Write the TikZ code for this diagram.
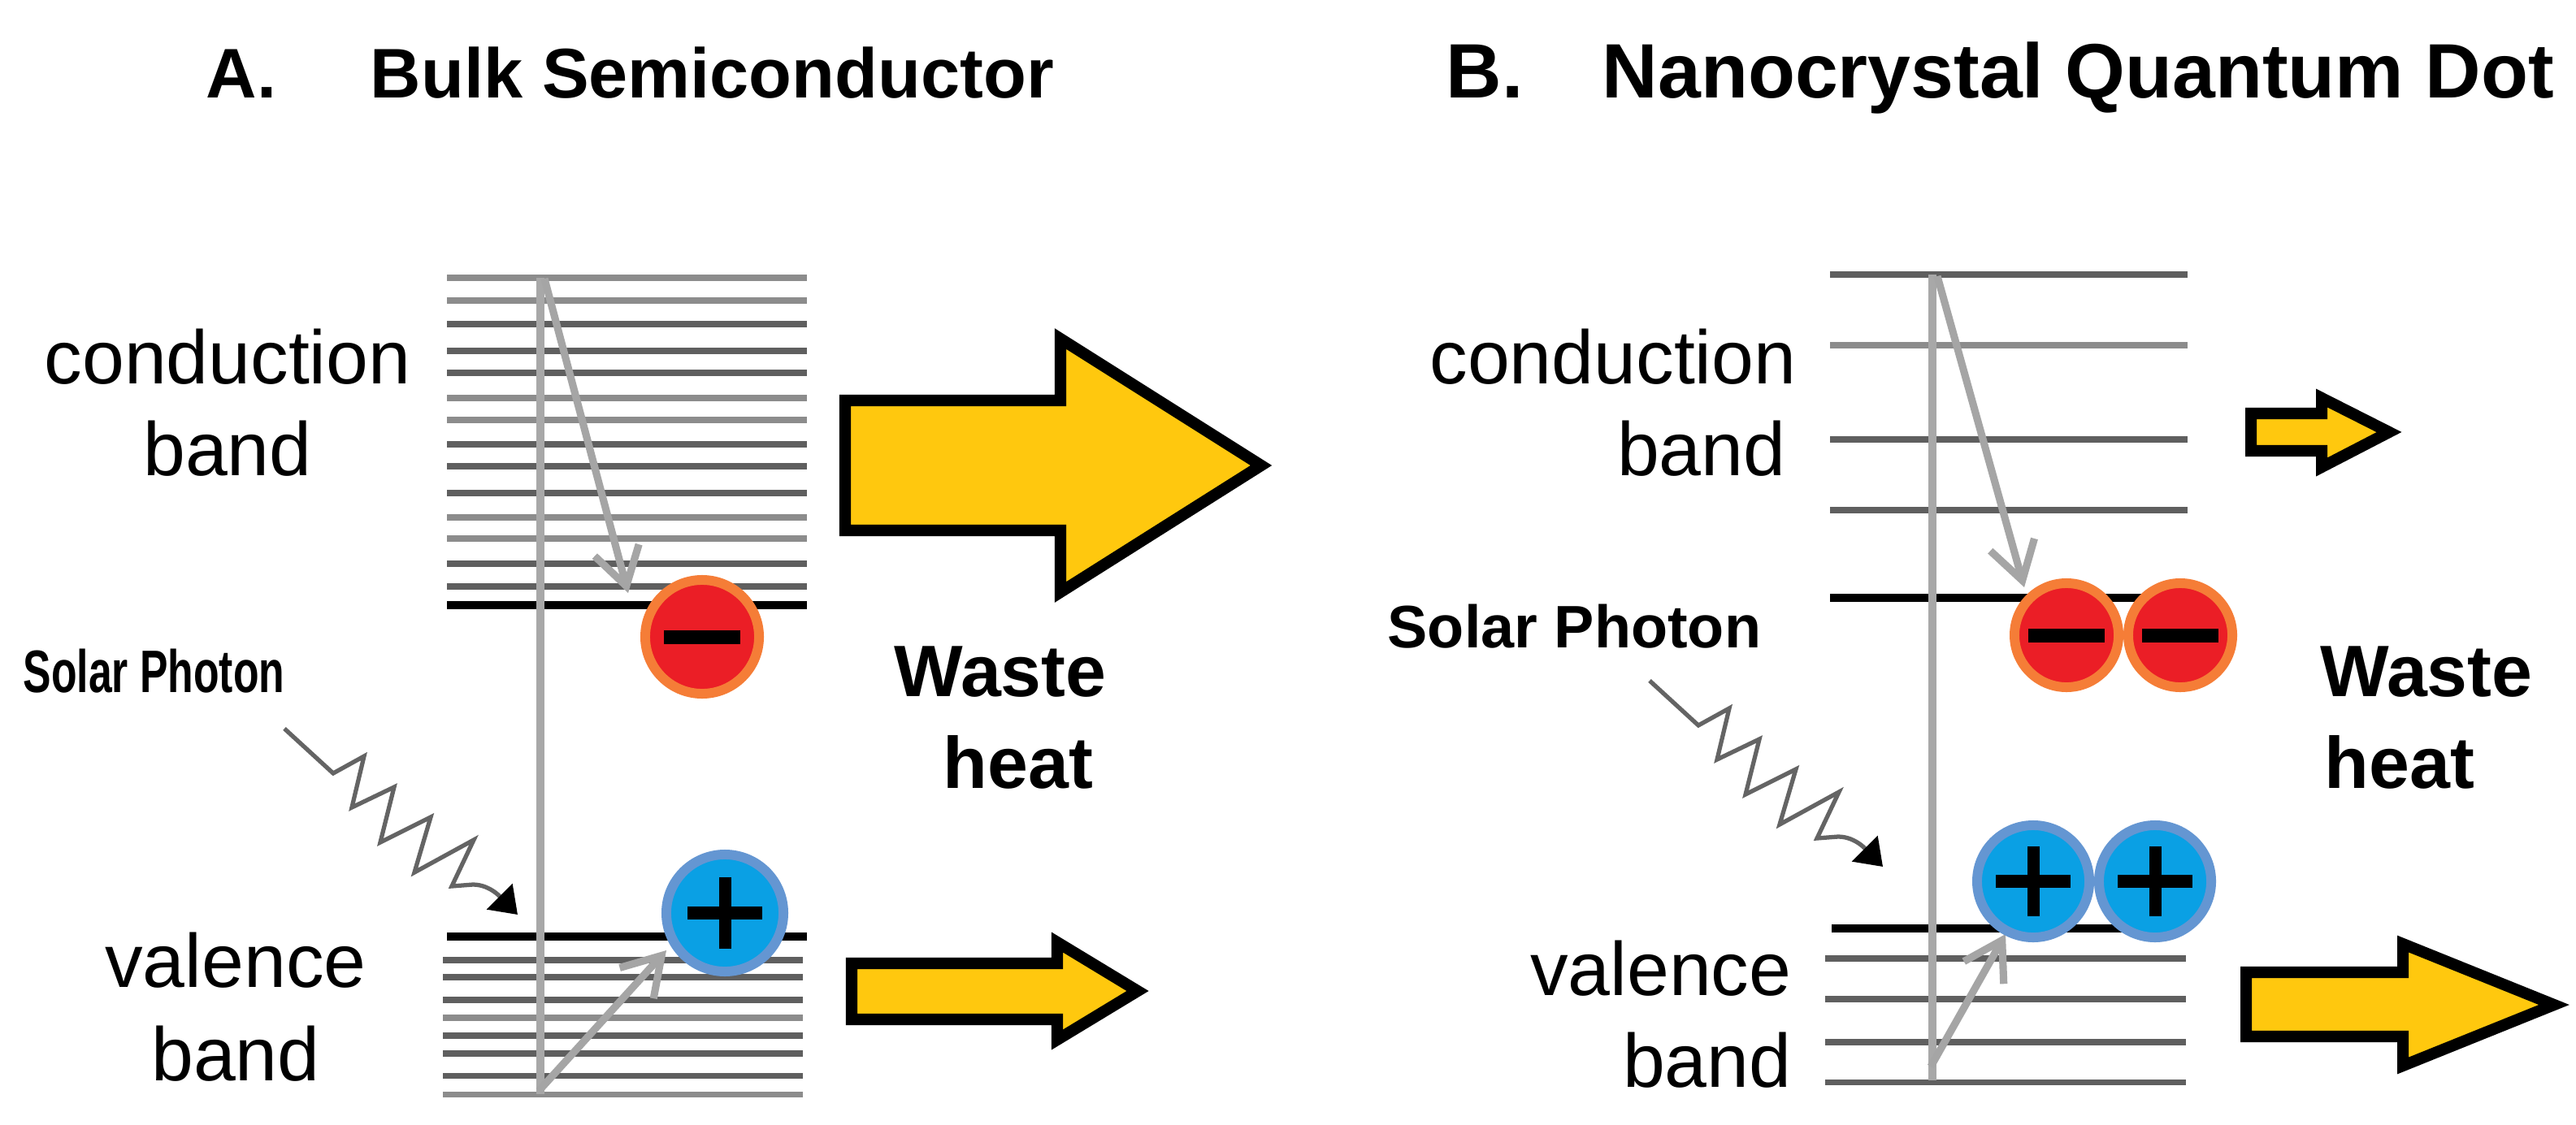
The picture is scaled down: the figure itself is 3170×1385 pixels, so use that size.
\documentclass[tikz,border=0pt]{standalone}
\usepackage{fontspec}
\setmainfont{Liberation Sans}
\usetikzlibrary{arrows.meta}
\definecolor{lndark}{RGB}{95,95,95}
\definecolor{lnmid}{RGB}{140,140,140}
\definecolor{vgray}{RGB}{168,168,168}
\definecolor{agray}{RGB}{165,165,165}
\definecolor{pgray}{RGB}{100,100,100}
\definecolor{efill}{RGB}{235,30,38}
\definecolor{eborder}{RGB}{245,125,55}
\definecolor{hfill}{RGB}{10,160,228}
\definecolor{hborder}{RGB}{100,150,210}
\definecolor{heatfill}{RGB}{255,200,14}
\begin{document}
\begin{tikzpicture}[x=0.01cm,y=-0.01cm,
  bandln/.style={line width=2pt},
  blk/.style={draw=black,line width=2.9pt},
  vline/.style={draw=vgray,line width=3.1pt},
  transit/.style={draw=agray,line width=2.6pt,-{Straight Barb[length=13pt,width=16pt]}},
  photon/.style={draw=pgray,line width=1.5pt,line join=miter,-{Triangle[length=9pt,width=12.5pt,color=black]}},
  electron/.style={circle,draw=eborder,fill=efill,line width=3.4pt,inner sep=0pt},
  hole/.style={circle,draw=hborder,fill=hfill,line width=3.4pt,inner sep=0pt},
  heatarrow/.style={draw=black,fill=heatfill,line width=4pt,line join=miter},
  lbl/.style={inner sep=0pt,font=\fontsize{26.5}{32}\selectfont},
  ttlA/.style={inner sep=0pt,font=\bfseries\fontsize{24.6}{30}\selectfont},
  ttlB/.style={inner sep=0pt,font=\bfseries\fontsize{27}{32}\selectfont},
  wst/.style={inner sep=0pt,font=\bfseries\fontsize{25.5}{30}\selectfont},
  sol/.style={inner sep=0pt,font=\bfseries\fontsize{21}{25}\selectfont}
]
\useasboundingbox (0,0) rectangle (3170,1385);
\fill[white] (0,0) rectangle (3170,1385);

% ---------------- Titles
\node[ttlA,anchor=base west] (tA) at (253,121) {A.};
\node[ttlA,anchor=base west] (tAt) at (455,121) {Bulk Semiconductor};
\node[ttlB,anchor=base west] (tB) at (1779,121) {B.};
\node[ttlB,anchor=base west] (tBt) at (1971,121) {Nanocrystal Quantum Dot};

% ---------------- Panel A bands
\foreach \yy/\cc in {342/lnmid,370/lnmid,399/lndark,432/lndark,459/lndark,490/lnmid,517/lnmid,
  547/lndark,574/lndark,607/lndark,637/lnmid,663/lnmid,694/lndark,722/lndark}
  \draw[bandln,draw=\cc] (550,\yy) -- (993,\yy);
\draw[blk] (550,745) -- (993,745);
\draw[blk] (550,1153) -- (993,1153);
\foreach \yy/\cc in {1182/lndark,1203/lndark,1231/lndark,1253/lnmid,1275/lndark,1297/lndark,1324/lndark,1347/lnmid}
  \draw[bandln,draw=\cc] (545,\yy) -- (988,\yy);

\coordinate (atop) at (665,342);
\coordinate (abot) at (665,1347);
\draw[vline] (atop) -- (abot);
\coordinate (ac1) at (670,343);
\coordinate (ac2) at (773,730);
\draw[transit] (ac1) -- (ac2);
\coordinate (av1) at (663,1343);
\coordinate (av2) at (820,1170);
\draw[transit] (av1) -- (av2);

\node[electron,minimum size=1.40cm] (ea) at (864,784) {};
\fill (ea.center) ++(-47,-8.5) rectangle ++(94,17);
\node[hole,minimum size=1.44cm] (ha) at (892,1124) {};
\fill (ha.center) ++(-46,-8) rectangle ++(92,16);
\fill (ha.center) ++(-7.5,-44) rectangle ++(15,88);

% ---------------- Panel B bands
\foreach \yy/\cc in {338/lndark,425/lnmid,541/lndark,628/lndark}
  \draw[bandln,draw=\cc] (2252,\yy) -- (2692,\yy);
\draw[blk] (2252,736) -- (2640,736);
\draw[blk] (2254,1143) -- (2640,1143);
\foreach \yy in {1180,1230,1283,1332}
  \draw[bandln,draw=lndark] (2246,\yy) -- (2690,\yy);

\coordinate (btop) at (2378,338);
\coordinate (bbot) at (2378,1330);
\draw[vline] (btop) -- (bbot);
\coordinate (bc1) at (2384,340);
\coordinate (bc2) at (2491,723);
\draw[transit] (bc1) -- (bc2);
\coordinate (bv1) at (2376,1313);
\coordinate (bv2) at (2468,1150);
\draw[transit] (bv1) -- (bv2);

\node[electron,minimum size=1.28cm] (eb1) at (2543,782) {};
\node[electron,minimum size=1.28cm] (eb2) at (2683,782) {};
\fill (eb1.center) ++(-47,-8.5) rectangle ++(94,17);
\fill (eb2.center) ++(-47,-8.5) rectangle ++(94,17);
\node[hole,minimum size=1.38cm] (hb1) at (2502,1085) {};
\node[hole,minimum size=1.38cm] (hb2) at (2652,1085) {};
\foreach \h in {hb1,hb2}{
  \fill (\h.center) ++(-46,-8) rectangle ++(92,16);
  \fill (\h.center) ++(-7.5,-43) rectangle ++(15,86);
}

% ---------------- Photons
\coordinate (pbS) at (2030,838);
\coordinate (pbE) at (2317,1067);
\draw[photon] (pbS) -- (2090,893) -- (2128,872) -- (2113,935) -- (2165,910) -- (2148,978)
  -- (2210,947) -- (2190,1015) -- (2263,975) -- (2236,1032) -- (2262,1030)
  .. controls (2285,1030) and (2300,1050) .. (pbE);
\begin{scope}[shift={(-1680,59)}]
\coordinate (paS) at (2030,838);
\coordinate (paE) at (2317,1067);
\draw[photon] (paS) -- (2090,893) -- (2128,872) -- (2113,935) -- (2165,910) -- (2148,978)
  -- (2210,947) -- (2190,1015) -- (2263,975) -- (2236,1032) -- (2262,1030)
  .. controls (2285,1030) and (2300,1050) .. (paE);
\end{scope}

% ---------------- Labels
\node[lbl,anchor=base] (cA1) at (280,472) {conduction};
\node[lbl,anchor=base] (cA2) at (280,585) {band};
\node[lbl,anchor=base] (vA1) at (290,1215) {valence};
\node[lbl,anchor=base] (vA2) at (290,1330) {band};
\node[sol,anchor=base west] (sA) at (28,852) {\scalebox{0.70}[1]{Solar Photon}};

\node[lbl,anchor=base east] (cB1) at (2211,472) {conduction};
\node[lbl,anchor=base east] (cB2) at (2198,585) {band};
\node[lbl,anchor=base east] (vB1) at (2205,1225) {valence};
\node[lbl,anchor=base east] (vB2) at (2205,1338) {band};
\node[sol,anchor=base west] (sB) at (1707,797) {Solar Photon};

\node[wst,anchor=base west] (wA1) at (1100,857) {Waste};
\node[wst,anchor=base west] (wA2) at (1160,970) {heat};
\node[wst,anchor=base west] (wB1) at (2855,857) {Waste};
\node[wst,anchor=base west] (wB2) at (2860,970) {heat};

% ---------------- Heat arrows
\draw[heatarrow] (1040,493) -- (1305,493) -- (1305,417) -- (1552,573) -- (1305,729) -- (1305,653) -- (1040,653) -- cycle;
\draw[heatarrow] (1048,1186) -- (1301,1186) -- (1301,1160) -- (1400,1220) -- (1301,1280) -- (1301,1255) -- (1048,1255) -- cycle;
\draw[heatarrow] (2770,509) -- (2857,509) -- (2857,490) -- (2940,532) -- (2857,575) -- (2857,555) -- (2770,555) -- cycle;
\draw[heatarrow] (2764,1197) -- (2957,1197) -- (2957,1162) -- (3143,1237) -- (2957,1312) -- (2957,1276) -- (2764,1276) -- cycle;
\end{tikzpicture}
\end{document}
